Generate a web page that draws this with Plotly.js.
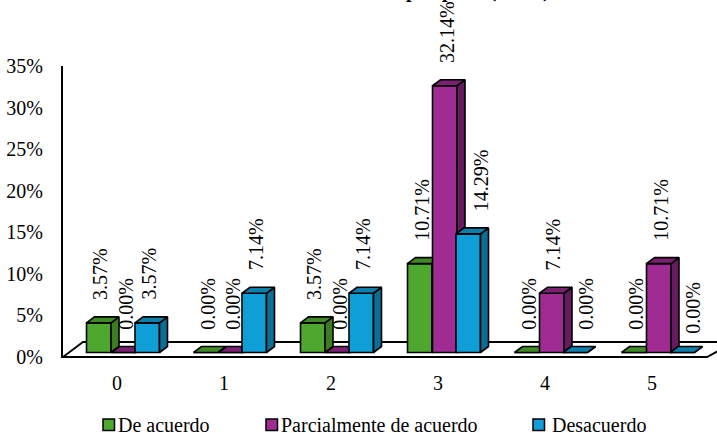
<!DOCTYPE html>
<html>
<head>
<meta charset="utf-8">
<script src="https://cdn.plot.ly/plotly-3.0.1.min.js"></script>
<style>html,body{margin:0;padding:0;background:#fff;overflow:hidden}</style>
</head>
<body>
<div id="chart" style="width:717px;height:433px"></div>
<script>
const categories = [0, 1, 2, 3, 4, 5];
const deAcuerdo = [3.57, 0, 3.57, 10.71, 0, 0];
const parcialmente = [0, 0, 0, 32.14, 7.14, 10.71];
const desacuerdo = [3.57, 7.14, 7.14, 14.29, 0, 0];
const seriesNames = ["De acuerdo", "Parcialmente de acuerdo", "Desacuerdo"];
const yTickValues = [0, 5, 10, 15, 20, 25, 30, 35];
const yTickLabels = ["0%", "5%", "10%", "15%", "20%", "25%", "30%", "35%"];

const FONT = "Liberation Serif, Times New Roman, serif";
const W = 717, H = 433, L = 63, T = 66, B = 76;
const plotW = W - L, plotH = H - T - B;
const pxPerCat = 107, pxPerPct = 8.3;
const xU = p => p / pxPerCat, yU = p => p / pxPerPct;
const paperX = p => (p - L) / plotW, paperY = p => (H - B - p) / plotH;

const barW = xU(24.5), depthX = xU(8), depthY = yU(6), baseLift = yU(4);
const styles = [
  {vals: deAcuerdo, off: xU(-30.5), front: "#4EA72E", side: "#3A7D22", top: "#3F8A25", ax: ["x", "y"], legend: 103, gap: 13},
  {vals: parcialmente, off: xU(-5.5), front: "#A02B93", side: "#661B5E", top: "#7A2170", ax: ["x2", "y2"], legend: 266, gap: 13},
  {vals: desacuerdo, off: xU(18), front: "#0F9ED5", side: "#0B6E95", top: "#0C7FAB", ax: ["x3", "y3"], legend: 533, gap: 17}
];

const traces = [];
styles.forEach((s, i) => {
  traces.push({
    type: "bar", name: seriesNames[i], x: categories, y: s.vals,
    base: categories.map(() => baseLift), width: barW, offset: s.off,
    marker: {color: s.front, line: {color: "#000", width: 1.6}},
    xaxis: s.ax[0], yaxis: s.ax[1], showlegend: false, hoverinfo: "skip"
  });
  const sx = [], sy = [], tx = [], ty = [];
  categories.forEach((c, k) => {
    const l = c + s.off, r = l + barW, b = baseLift, t = baseLift + s.vals[k];
    sx.push(r, r + depthX, r + depthX, r, r, null);
    sy.push(b, b + depthY, t + depthY, t, b, null);
    tx.push(l, l + depthX, r + depthX, r, l, null);
    ty.push(t, t + depthY, t + depthY, t, t, null);
  });
  [[sx, sy, s.side], [tx, ty, s.top]].forEach(f => traces.push({
    type: "scatter", mode: "lines", x: f[0], y: f[1], fill: "toself", fillcolor: f[2],
    line: {color: "#000", width: 1.6}, xaxis: s.ax[0], yaxis: s.ax[1],
    showlegend: false, hoverinfo: "skip", cliponaxis: false, connectgaps: false
  }));
});

const annotations = [];
styles.forEach((s, i) => {
  categories.forEach((c, k) => {
    const v = s.vals[k];
    let nudgeX = 1.5, nudgeY = 23;
    if (i === 2 && v === 0) nudgeX = 10;
    if (i === 2 && c === 5) nudgeY = 19;
    if (i === 2 && c === 3) nudgeX = 13;
    annotations.push({
      xref: "x", yref: "y", x: c + s.off + barW / 2, y: baseLift + v,
      text: v.toFixed(2) + "%", textangle: -90, showarrow: false,
      xanchor: "center", yanchor: "bottom", xshift: nudgeX, yshift: nudgeY,
      font: {family: FONT, size: 20, color: "#000"}, borderpad: 0, borderwidth: 0
    });
  });
});

const shapes = [{
  type: "path", xref: "paper", yref: "paper", layer: "below",
  path: `M ${paperX(63)} ${paperY(357)} L ${paperX(83)} ${paperY(342)} L ${paperX(735)} ${paperY(342)} L ${paperX(707)} ${paperY(357)} Z`,
  line: {color: "#000", width: 1.8}, fillcolor: "#fff"
}];
styles.forEach((s, i) => {
  shapes.push({
    type: "rect", xref: "paper", yref: "paper",
    x0: paperX(s.legend), x1: paperX(s.legend + 11.5), y0: paperY(430.5), y1: paperY(419),
    line: {color: "#000", width: 1.5}, fillcolor: s.front
  });
  annotations.push({
    xref: "paper", yref: "paper", x: paperX(s.legend + s.gap), y: paperY(424.5),
    text: seriesNames[i], showarrow: false, xanchor: "left", yanchor: "middle",
    font: {family: FONT, size: 20, color: "#000"}
  });
});
annotations.push({
  xref: "paper", yref: "paper", x: paperX(487), y: paperY(3.5), yanchor: "bottom", xanchor: "left",
  text: "<b>(n=28)</b>", showarrow: false, font: {family: FONT, size: 22, color: "#000"}
});
["p", "p"].forEach((t, i) => annotations.push({
  xref: "paper", yref: "paper", x: paperX(i ? 447 : 411), y: paperY(3.5), yanchor: "bottom", xanchor: "center",
  text: "<b>" + t + "</b>", showarrow: false, font: {family: FONT, size: 20, color: "#000"}
}));

const xRange = [(L - 117) / pxPerCat, (W - 117) / pxPerCat];
const yRange = [-0.06, 35];
const hidden = base => ({overlaying: base, range: base === "x" ? xRange : yRange, visible: false, fixedrange: true});

Plotly.newPlot("chart", traces, {
  width: W, height: H, showlegend: false, barmode: "overlay",
  margin: {l: L, r: 0, t: T, b: B, pad: 0},
  paper_bgcolor: "#fff", plot_bgcolor: "rgba(0,0,0,0)",
  font: {family: FONT, size: 20, color: "#000"},
  xaxis: {range: xRange, tickvals: categories, ticktext: categories.map(String), showgrid: false,
    zeroline: false, showline: false, ticks: "", ticklabelstandoff: 12, fixedrange: true,
    tickfont: {family: FONT, size: 20, color: "#000"}},
  yaxis: {range: yRange, tickvals: yTickValues, ticktext: yTickLabels, showgrid: false, zeroline: false,
    showline: true, linecolor: "#000", linewidth: 2, ticks: "", ticklabelstandoff: 14, fixedrange: true,
    tickfont: {family: FONT, size: 20, color: "#000"}},
  xaxis2: hidden("x"), yaxis2: hidden("y"), xaxis3: hidden("x"), yaxis3: hidden("y"),
  shapes, annotations
}, {staticPlot: true, displayModeBar: false});
</script>
</body>
</html>
